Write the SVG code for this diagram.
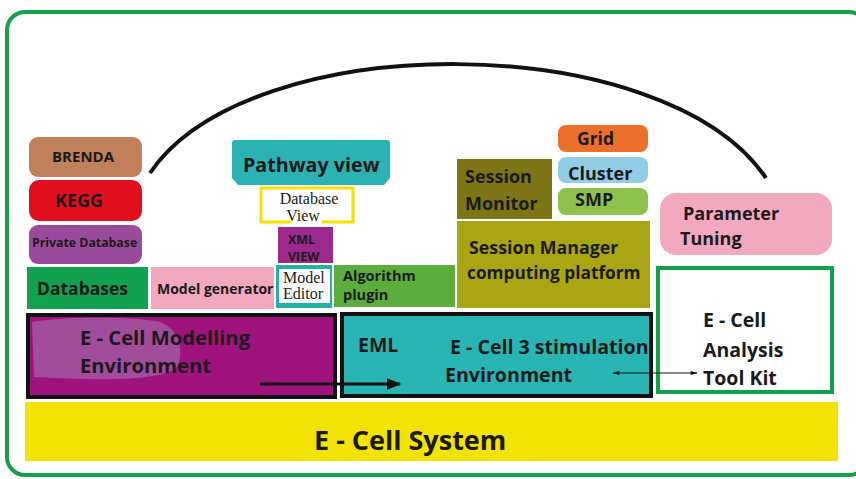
<svg xmlns="http://www.w3.org/2000/svg" width="856" height="479" viewBox="0 0 856 479">
<defs>
<marker id="ah" viewBox="0 0 10 10" refX="9" refY="5" markerWidth="5" markerHeight="5" orient="auto-start-reverse" markerUnits="strokeWidth"><path d="M0,1 L10,5 L0,9 z" fill="#111"/></marker>
<marker id="ahs" viewBox="0 0 10 10" refX="9" refY="5" markerWidth="9" markerHeight="7" orient="auto-start-reverse" markerUnits="strokeWidth"><path d="M0,2 L10,5 L0,8 z" fill="#111"/></marker>
<style>
text{font-family:"Open Sans","Liberation Sans",sans-serif;font-weight:700;fill:#1a1a1a}
.serif{font-family:"Liberation Serif","DejaVu Serif",serif;font-weight:400}
.bk{stroke:#111;stroke-width:4}
</style>
</defs>
<rect width="856" height="479" fill="#fff"/>
<rect x="7" y="12" width="860" height="463" rx="18" fill="none" stroke="#16a04a" stroke-width="4"/>

<g id="system"><rect x="25" y="402" width="813" height="59" fill="#f3e303"/><text x="314" y="450" font-size="27">E - Cell System</text></g>

<g id="brenda"><rect x="29" y="137" width="113" height="40" rx="9" fill="#c0805a"/><text x="52" y="162" font-size="15">BRENDA</text></g>
<g id="kegg"><rect x="29" y="180" width="113" height="41" rx="10" fill="#e2101e"/><text x="55" y="207" font-size="18">KEGG</text></g>
<g id="private"><rect x="29" y="225" width="113" height="39" rx="9" fill="#9a4a9a"/><text x="32" y="247" font-size="12.3">Private Database</text></g>
<g id="databases"><rect x="27" y="267" width="121" height="42" fill="#12a14f"/><text x="37" y="295" font-size="17.5">Databases</text></g>
<g id="modelgen"><rect x="151" y="267" width="123" height="42" fill="#f2a9c0"/><text x="157" y="294" font-size="14">Model generator</text></g>

<g id="pathway"><path d="M235,140 H387 Q390,140 390,143 V178 L384,185 H238 L232,178 V143 Q232,140 235,140 z" fill="#2bb3b3"/><text x="243" y="172" font-size="19.7">Pathway view</text></g>
<g id="dbview"><path d="M291,222 H261 V188 H353 V222 H322" fill="#fff" stroke="#f5e000" stroke-width="3"/><text class="serif" x="309" y="204" font-size="16" text-anchor="middle">Database</text><text class="serif" x="303" y="221" font-size="16" text-anchor="middle">View</text></g>
<g id="xmlview"><rect x="278" y="227" width="55" height="36" fill="#9b2a8c"/><text x="288" y="244" font-size="12.5">XML</text><text x="288" y="261" font-size="12.5">VIEW</text></g>
<g id="modeleditor"><rect x="276" y="265" width="56" height="43" fill="#22b0a8"/><rect x="279" y="269" width="51" height="34" fill="#fff"/><text class="serif" x="283" y="283" font-size="16">Model</text><text class="serif" x="283" y="299" font-size="16">Editor</text></g>
<g id="algorithm"><rect x="334" y="265" width="121" height="42" fill="#5cae3c"/><text x="343" y="281" font-size="14.5">Algorithm</text><text x="343" y="300" font-size="14.5">plugin</text></g>

<g id="grid"><rect x="558" y="125" width="90" height="27" rx="8" fill="#ec6f2c"/><text x="577" y="145" font-size="17.5">Grid</text></g>
<g id="cluster"><rect x="558" y="157" width="90" height="26" rx="8" fill="#92cde6"/><text x="568" y="180" font-size="18">Cluster</text></g>
<g id="smp"><rect x="558" y="188" width="90" height="27" rx="8" fill="#8ec24e"/><text x="575" y="206" font-size="18">SMP</text></g>
<g id="sessmonitor"><rect x="457" y="159" width="95" height="60" fill="#7e7616"/><text x="465" y="183" font-size="18">Session</text><text x="465" y="210" font-size="18">Monitor</text></g>
<g id="sessmanager"><rect x="457" y="221" width="193" height="87" fill="#aaa613"/><text x="469" y="254" font-size="17.8">Session Manager</text><text x="467" y="279" font-size="17.3">computing platform</text></g>
<g id="parameter"><rect x="660" y="193" width="172" height="62" rx="16" fill="#f2a9c0"/><text x="683" y="220" font-size="18">Parameter</text><text x="680" y="245" font-size="18">Tuning</text></g>
<g id="toolkit"><rect x="658" y="268" width="174" height="124" fill="#fff" stroke="#13a04a" stroke-width="4"/><text x="703" y="327" font-size="19.5">E - Cell</text><text x="703" y="357" font-size="19.5">Analysis</text><text x="703" y="385" font-size="19.5">Tool Kit</text></g>

<g id="modelling"><rect x="28" y="315" width="307" height="82" fill="#a0127e" class="bk"/><path d="M32,322 C60,317 130,316 160,322 C182,330 184,356 176,368 C160,382 90,380 34,377 z" fill="#a24c9c"/><text x="80" y="345" font-size="20.2">E - Cell Modelling</text><text x="80" y="373" font-size="20.2">Environment</text></g>
<g id="eml"><rect x="342" y="314" width="309" height="82" fill="#2ab5b5" class="bk"/><text x="358" y="352" font-size="19.5">EML</text><text x="450" y="354" font-size="19.6">E - Cell 3 stimulation</text><text x="445" y="382" font-size="19.6">Environment</text></g>

<g id="connectors" fill="none" stroke="#111">
<path d="M150,173 C250,26 665,28 766,178" stroke-width="4"/>
<line x1="260" y1="384" x2="400" y2="384" stroke-width="3" marker-end="url(#ah)"/>
<line x1="613" y1="373" x2="697" y2="373" stroke-width="1" marker-start="url(#ahs)" marker-end="url(#ahs)"/>
</g>
</svg>
